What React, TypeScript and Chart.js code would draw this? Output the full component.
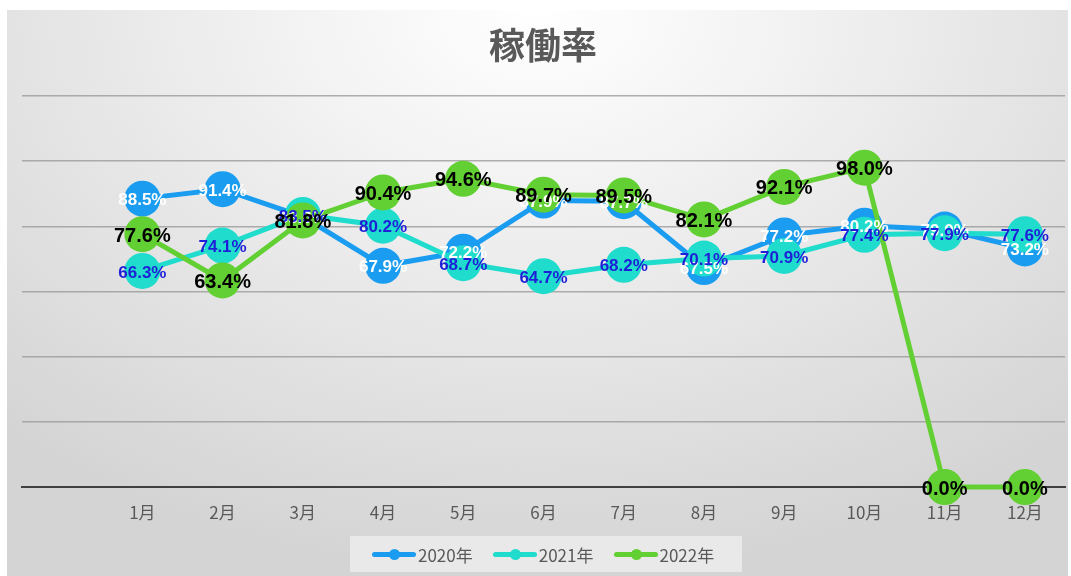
import React, { useEffect, useRef } from "react";
import { Chart, registerables } from "chart.js";

Chart.register(...registerables);

// ---- data ----
const months = ["1月", "2月", "3月", "4月", "5月", "6月", "7月", "8月", "9月", "10月", "11月", "12月"];
const seriesNames = ["2020年", "2021年", "2022年"];
const rate2020 = [88.5, 91.4, 83.0, 67.9, 72.2, 87.9, 87.7, 67.5, 77.2, 80.2, 79.0, 73.2];
const rate2021 = [66.3, 74.1, 83.5, 80.2, 68.7, 64.7, 68.2, 70.1, 70.9, 77.4, 77.9, 77.6];
const rate2022 = [77.6, 63.4, 81.8, 90.4, 94.6, 89.7, 89.5, 82.1, 92.1, 98.0, 0.0, 0.0];
const yMin = 0;
const yMax = 120;
const yStep = 20;
const title = "稼働率";

// ---- styles ----
const COLORS = ["#1a9cf0", "#1fdccc", "#62cf33"];
const LABEL_COLORS = ["#ffffff", "#1f1fd8", "#000000"];
const LABEL_SIZES = [17, 17, 20];
const W = 1061;
const H = 566;

const labelPlugin = {
  id: "pointValueLabels",
  afterDatasetsDraw(chart: any) {
    const ctx = chart.ctx;
    ctx.save();
    chart.data.datasets.forEach((ds: any, i: number) => {
      const meta = chart.getDatasetMeta(i);
      ctx.font = `bold ${LABEL_SIZES[i]}px "Liberation Sans Narrow", "Liberation Sans", sans-serif`;
      ctx.fillStyle = LABEL_COLORS[i];
      ctx.textAlign = "center";
      ctx.textBaseline = "middle";
      meta.data.forEach((pt: any, j: number) => {
        const v = ds.data[j];
        if (v == null) return;
        ctx.fillText(`${v.toFixed(1)}%`, pt.x, pt.y + 2);
      });
    });
    ctx.restore();
  },
};

function ChartView() {
  const ref = useRef<HTMLCanvasElement | null>(null);
  useEffect(() => {
    if (!ref.current) return;
    const allSeries = [rate2020, rate2021, rate2022];
    const chart = new Chart(ref.current, {
      type: "line",
      data: {
        labels: ["", ...months],
        datasets: allSeries.map((s, i) => ({
          label: seriesNames[i],
          data: [null, ...s],
          borderColor: COLORS[i],
          backgroundColor: COLORS[i],
          borderWidth: 5,
          pointRadius: 18,
          pointHoverRadius: 18,
          pointBorderWidth: 0,
          pointBackgroundColor: COLORS[i],
          tension: 0,
          clip: false,
          order: 3 - i,
        })),
      },
      options: {
        responsive: false,
        animation: false,
        devicePixelRatio: 1,
        layout: { autoPadding: false, padding: { left: 15, right: 3, top: 86, bottom: 49 } },
        plugins: {
          legend: { display: false },
          title: { display: false },
          tooltip: { enabled: false },
        },
        scales: {
          x: {
            offset: true,
            grid: { display: false },
            border: { display: true, color: "#404040", width: 2 },
            ticks: {
              color: "#595959",
              padding: 7,
              font: { size: 17, family: '"Noto Sans CJK JP", "Noto Sans", sans-serif' },
              autoSkip: false,
              maxRotation: 0,
            },
            afterFit: (s: any) => {
              s.height = 40;
              s.paddingLeft = 0;
              s.paddingRight = 0;
            },
          },
          y: {
            min: yMin,
            max: yMax,
            ticks: { display: false, stepSize: yStep },
            grid: { color: "rgba(150,150,150,0.75)", lineWidth: 1.5, drawTicks: false },
            border: { display: false },
            afterFit: (s: any) => {
              s.width = 0;
              s.paddingTop = 0;
              s.paddingBottom = 0;
            },
          },
        },
      },
      plugins: [labelPlugin],
    } as any);
    return () => chart.destroy();
  }, []);
  return <canvas ref={ref} width={W} height={H} style={{ width: W, height: H, display: "block" }} />;
}

export default function App() {
  const legendFont = '"Noto Sans CJK JP", "Noto Sans", sans-serif';
  return (
    <div
      style={{
        position: "absolute",
        left: 7,
        top: 10,
        width: W,
        height: H,
        background:
          "radial-gradient(ellipse 75% 100% at 50% 0%, #ffffff 0%, #f5f5f5 25%, #d4d4d4 100%)",
        overflow: "hidden",
      }}
    >
      <ChartView />
      <div
        style={{
          position: "absolute",
          left: 0,
          top: 11,
          width: 1072,
          textAlign: "center",
          fontFamily: legendFont,
          fontWeight: "bold",
          fontSize: 36,
          lineHeight: "44px",
          color: "#595959",
        }}
      >
        {title}
      </div>
      <div
        style={{
          position: "absolute",
          left: 343,
          top: 526,
          width: 392,
          height: 36,
          background: "rgba(236,236,236,0.85)",
          display: "flex",
          alignItems: "center",
          paddingLeft: 22,
          boxSizing: "border-box",
          fontFamily: legendFont,
          fontSize: 17,
          color: "#595959",
        }}
      >
        {seriesNames.map((n, i) => (
          <div key={n} style={{ display: "flex", alignItems: "center", marginRight: 20 }}>
            <div style={{ position: "relative", width: 44, height: 5, background: COLORS[i], borderRadius: 3 }}>
              <div
                style={{
                  position: "absolute",
                  left: 17,
                  top: -3,
                  width: 11,
                  height: 11,
                  borderRadius: "50%",
                  background: COLORS[i],
                }}
              />
            </div>
            <span style={{ marginLeft: 2 }}>{n}</span>
          </div>
        ))}
      </div>
    </div>
  );
}
